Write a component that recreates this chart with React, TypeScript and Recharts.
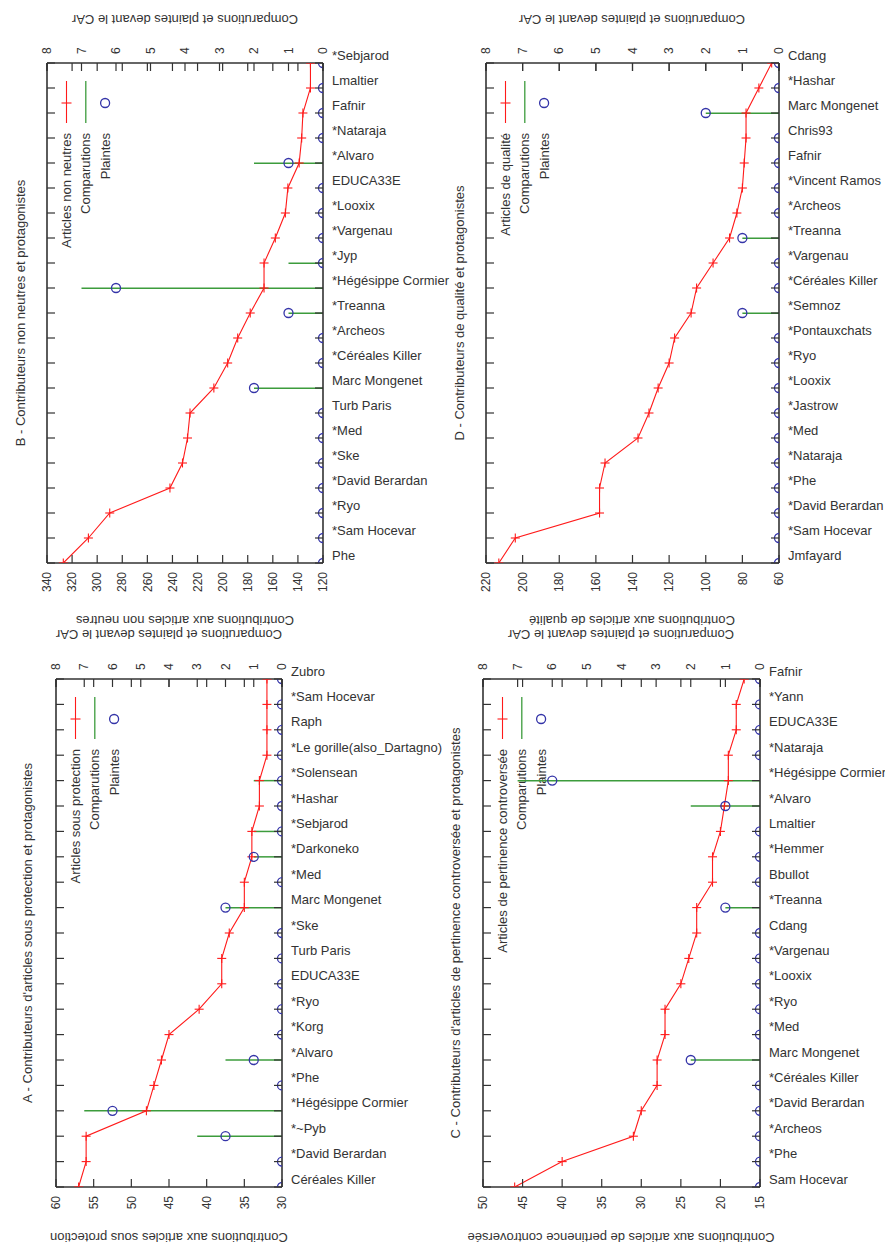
import React from 'react';
import { Bar, ComposedChart, Customized, Line, ReferenceLine, XAxis, YAxis } from 'recharts';

const W = 885;
const H = 1246;
const FONT = '"Liberation Sans", Arial, Helvetica, sans-serif';
const INK = '#333333';
const RED = '#ff1a1a';
const GREEN = '#3c9c3c';
const BLUE = '#3434a8';

const TOP_TITLE = 'Comparutions et plaintes devant le CAr';
const topTicks = [8, 7, 6, 5, 4, 3, 2, 1, 0];

// A - articles sous protection
const namesA = ['Zubro', '*Sam Hocevar', 'Raph', '*Le gorille(also_Dartagno)', '*Solensean', '*Hashar', '*Sebjarod', '*Darkoneko', '*Med', 'Marc Mongenet', '*Ske', 'Turb Paris', 'EDUCA33E', '*Ryo', '*Korg', '*Alvaro', '*Phe', '*Hégésippe Cormier', '*~Pyb', '*David Berardan', 'Céréales Killer'];
const contribA = [32, 32, 32, 32, 33, 33, 34, 34, 35, 35, 37, 38, 38, 41, 45, 46, 47, 48, 56, 56, 57];
const comparutionsA = [0, 0, 0, 0, 1, 0, 1, 1, 0, 2, 0, 0, 0, 0, 0, 2, 0, 7, 3, 0, 0];
const plaintesA = [0, 0, 0, 0, 0, 0, 0, 1, 0, 2, 0, 0, 0, 0, 0, 1, 0, 6, 2, 0, 0];
const ticksA = [60, 55, 50, 45, 40, 35, 30];

// B - articles non neutres
const namesB = ['*Sebjarod', 'Lmaltier', 'Fafnir', '*Nataraja', '*Alvaro', 'EDUCA33E', '*Looxix', '*Vargenau', '*Jyp', '*Hégésippe Cormier', '*Treanna', '*Archeos', '*Céréales Killer', 'Marc Mongenet', 'Turb Paris', '*Med', '*Ske', '*David Berardan', '*Ryo', '*Sam Hocevar', 'Phe'];
const contribB = [130, 130, 136, 137, 139, 148, 150, 158, 167, 167, 178, 188, 196, 207, 226, 228, 232, 242, 290, 307, 327];
const comparutionsB = [0, 0, 0, 0, 2, 0, 0, 0, 1, 7, 1, 0, 0, 2, 0, 0, 0, 0, 0, 0, 0];
const plaintesB = [0, 0, 0, 0, 1, 0, 0, 0, 0, 6, 1, 0, 0, 2, 0, 0, 0, 0, 0, 0, 0];
const ticksB = [340, 320, 300, 280, 260, 240, 220, 200, 180, 160, 140, 120];

// C - articles de pertinence controversée
const namesC = ['Fafnir', '*Yann', 'EDUCA33E', '*Nataraja', '*Hégésippe Cormier', '*Alvaro', 'Lmaltier', '*Hemmer', 'Bbullot', '*Treanna', 'Cdang', '*Vargenau', '*Looxix', '*Ryo', '*Med', 'Marc Mongenet', '*Céréales Killer', '*David Berardan', '*Archeos', '*Phe', 'Sam Hocevar'];
const contribC = [17, 18, 18, 19, 19, 19.5, 20, 21, 21, 23, 23, 24, 25, 27, 27, 28, 28, 30, 31, 40, 46];
const comparutionsC = [0, 0, 0, 0, 7, 2, 0, 0, 0, 1, 0, 0, 0, 0, 0, 2, 0, 0, 0, 0, 0];
const plaintesC = [0, 0, 0, 0, 6, 1, 0, 0, 0, 1, 0, 0, 0, 0, 0, 2, 0, 0, 0, 0, 0];
const ticksC = [50, 45, 40, 35, 30, 25, 20, 15];

// D - articles de qualité
const namesD = ['Cdang', '*Hashar', 'Marc Mongenet', 'Chris93', 'Fafnir', '*Vincent Ramos', '*Archeos', '*Treanna', '*Vargenau', '*Céréales Killer', '*Semnoz', '*Pontauxchats', '*Ryo', '*Looxix', '*Jastrow', '*Med', '*Nataraja', '*Phe', '*David Berardan', '*Sam Hocevar', 'Jmfayard'];
const contribD = [64, 71, 78, 78, 79, 80, 83, 87, 96, 105, 108, 117, 120, 126, 131, 137, 155, 158, 158, 204, 213];
const comparutionsD = [0, 0, 2, 0, 0, 0, 0, 1, 0, 0, 1, 0, 0, 0, 0, 0, 0, 0, 0, 0, 0];
const plaintesD = [0, 0, 2, 0, 0, 0, 0, 1, 0, 0, 1, 0, 0, 0, 0, 0, 0, 0, 0, 0, 0];
const ticksD = [220, 200, 180, 160, 140, 120, 100, 80, 60];

type Panel = {
  names: string[];
  contrib: number[];
  comparutions: number[];
  plaintes: number[];
  ticks: number[];
  L: number;
  R: number;
  T: number;
  B: number;
  title: string;
  titleAt: [number, number];
  topTitleAt: [number, number];
  bottomTitle: string;
  bottomTitleAt: [number, number];
  legendLabel: string;
};

const panels: Panel[] = [
  {
    names: namesB, contrib: contribB, comparutions: comparutionsB, plaintes: plaintesB, ticks: ticksB,
    L: 47, R: 323, T: 63, B: 563,
    title: 'B - Contributeurs non neutres et protagonistes', titleAt: [20, 313],
    topTitleAt: [185, 20],
    bottomTitle: 'Contributions aux articles non neutres', bottomTitleAt: [185, 621],
    legendLabel: 'Articles non neutres',
  },
  {
    names: namesD, contrib: contribD, comparutions: comparutionsD, plaintes: plaintesD, ticks: ticksD,
    L: 486, R: 779, T: 63, B: 563,
    title: 'D - Contributeurs de qualité et protagonistes', titleAt: [459, 313],
    topTitleAt: [632, 20],
    bottomTitle: 'Contributions aux articles de qualité', bottomTitleAt: [632, 621],
    legendLabel: 'Articles de qualité',
  },
  {
    names: namesA, contrib: contribA, comparutions: comparutionsA, plaintes: plaintesA, ticks: ticksA,
    L: 56, R: 282, T: 679, B: 1187,
    title: "A - Contributeurs d'articles sous protection et protagonistes", titleAt: [27, 933],
    topTitleAt: [169, 635],
    bottomTitle: 'Contributions aux articles sous protection', bottomTitleAt: [169, 1238],
    legendLabel: 'Articles sous protection',
  },
  {
    names: namesC, contrib: contribC, comparutions: comparutionsC, plaintes: plaintesC, ticks: ticksC,
    L: 483, R: 760, T: 679, B: 1187,
    title: "C - Contributeurs d'articles de pertinence controversée et protagonistes", titleAt: [455, 933],
    topTitleAt: [621, 635],
    bottomTitle: 'Contributions aux articles de pertinence controversée', bottomTitleAt: [621, 1238],
    legendLabel: 'Articles de pertinence controversée',
  },
];

function Decor({ p }: { p: Panel }) {
  const lx = p.L + 19.5;
  const step = 19.3;
  const y1 = p.T + 18;
  const y2 = p.T + 60;
  const ym = p.T + 40;
  const ty = p.T + 70;
  const labels = [p.legendLabel, 'Comparutions', 'Plaintes'];
  return (
    <g fontFamily={FONT} fontSize={13} fill={INK}>
      <text transform={`translate(${p.titleAt[0]},${p.titleAt[1]}) rotate(-90)`} textAnchor="middle" dy="0.35em">{p.title}</text>
      <text transform={`translate(${p.topTitleAt[0]},${p.topTitleAt[1]}) rotate(180)`} textAnchor="middle" dy="0.35em">{TOP_TITLE}</text>
      <text transform={`translate(${p.bottomTitleAt[0]},${p.bottomTitleAt[1]}) rotate(180)`} textAnchor="middle" dy="0.35em">{p.bottomTitle}</text>
      <line x1={lx} x2={lx} y1={y1} y2={y2} stroke={RED} strokeWidth={1.1} />
      <line x1={lx - 5} x2={lx + 5} y1={ym} y2={ym} stroke={RED} strokeWidth={1.1} />
      <line x1={lx + step} x2={lx + step} y1={y1} y2={y2} stroke={GREEN} strokeWidth={1.3} />
      <circle cx={lx + 2 * step} cy={ym} r={4.5} fill="none" stroke={BLUE} strokeWidth={1.3} />
      {labels.map((t, i) => (
        <text key={t} transform={`translate(${lx + i * step},${ty}) rotate(-90)`} textAnchor="end" dy="0.35em">{t}</text>
      ))}
    </g>
  );
}

function ArticlePanel({ p }: { p: Panel }) {
  const rows = p.names.map((name, i) => ({
    idx: i,
    name,
    contrib: p.contrib[i],
    comparutions: p.comparutions[i],
    plaintes: p.plaintes[i],
  }));
  const plotW = p.R - p.L;
  const plotH = p.B - p.T;
  const idxTicks = p.names.map((_, i) => i);
  const axisH = 40;
  const yW = 100;
  const domain = [Math.min(...p.ticks), Math.max(...p.ticks)];

  const nameTick = (props: any) => {
    const { x, y, payload } = props;
    return (
      <g>
        <line x1={x} x2={x - 8} y1={y} y2={y} stroke={INK} strokeWidth={1.2} />
        <line x1={x - plotW} x2={x - plotW + 8} y1={y} y2={y} stroke={INK} strokeWidth={1.2} />
        <text x={x + 9} y={y - 8} dy="0.35em" fontSize={13} fontFamily={FONT} fill={INK}>
          {p.names[payload.value]}
        </text>
      </g>
    );
  };

  const bottomTick = (props: any) => {
    const { x, y, payload } = props;
    return (
      <g>
        <line x1={x} x2={x} y1={y} y2={y - 8} stroke={INK} strokeWidth={1.2} />
        <line x1={x} x2={x} y1={y - plotH} y2={y - plotH + 8} stroke={INK} strokeWidth={1.2} />
        <text transform={`translate(${x},${y + 9}) rotate(-90)`} textAnchor="end" dy="0.35em" fontSize={12} fontFamily={FONT} fill={INK}>
          {payload.value}
        </text>
      </g>
    );
  };

  const topTick = (props: any) => {
    const { x, y, payload } = props;
    return (
      <g>
        <line x1={x} x2={x} y1={y} y2={y + 8} stroke={INK} strokeWidth={1.2} />
        <text transform={`translate(${x},${y - 9}) rotate(-90)`} textAnchor="start" dy="0.35em" fontSize={12} fontFamily={FONT} fill={INK}>
          {payload.value}
        </text>
      </g>
    );
  };

  const plusDot = (props: any) => {
    const { cx, cy, index } = props;
    return (
      <g key={`plus-${index}`}>
        <line x1={cx - 4.5} x2={cx + 4.5} y1={cy} y2={cy} stroke={RED} strokeWidth={1.1} />
        <line x1={cx} x2={cx} y1={cy - 4.5} y2={cy + 4.5} stroke={RED} strokeWidth={1.1} />
      </g>
    );
  };

  const circleDot = (props: any) => {
    const { cx, cy, index } = props;
    return <circle key={`pl-${index}`} cx={cx} cy={cy} r={4.5} fill="none" stroke={BLUE} strokeWidth={1.3} />;
  };

  const axisLine = { stroke: INK, strokeWidth: 1.6 };

  return (
    <div style={{ position: 'absolute', left: 0, top: 0 }}>
      <ComposedChart
        width={W}
        height={H}
        data={rows}
        layout="vertical"
        margin={{ top: p.T - axisH, bottom: H - p.B - axisH, left: p.L, right: W - p.R - yW }}
      >
        <XAxis xAxisId="bottom" orientation="bottom" type="number" domain={domain} ticks={p.ticks} reversed allowDataOverflow interval={0} height={axisH} tickSize={0} tickMargin={0} tickLine={false} axisLine={axisLine} tick={bottomTick} />
        <XAxis xAxisId="top" orientation="top" type="number" domain={[0, 8]} ticks={topTicks} reversed allowDataOverflow interval={0} height={axisH} tickSize={0} tickMargin={0} tickLine={false} axisLine={axisLine} tick={topTick} />
        <YAxis yAxisId="names" orientation="right" type="number" dataKey="idx" domain={[0, p.names.length - 1]} ticks={idxTicks} allowDataOverflow interval={0} width={yW} tickSize={0} tickMargin={0} tickLine={false} axisLine={axisLine} tick={nameTick} />
        <ReferenceLine xAxisId="bottom" yAxisId="names" x={domain[1]} stroke={INK} strokeWidth={1.6} />
        <Bar xAxisId="top" yAxisId="names" dataKey="comparutions" barSize={1.5} fill={GREEN} isAnimationActive={false} />
        <Line xAxisId="bottom" yAxisId="names" dataKey="contrib" stroke={RED} strokeWidth={1.1} dot={plusDot} activeDot={false} isAnimationActive={false} />
        <Line xAxisId="top" yAxisId="names" dataKey="plaintes" stroke="none" dot={circleDot} activeDot={false} isAnimationActive={false} />
        <Customized component={<Decor p={p} />} />
      </ComposedChart>
    </div>
  );
}

export default function App() {
  return (
    <div style={{ position: 'absolute', left: 0, top: 0, width: W, height: H, background: '#ffffff' }}>
      {panels.map((p) => (
        <ArticlePanel key={p.title} p={p} />
      ))}
    </div>
  );
}
